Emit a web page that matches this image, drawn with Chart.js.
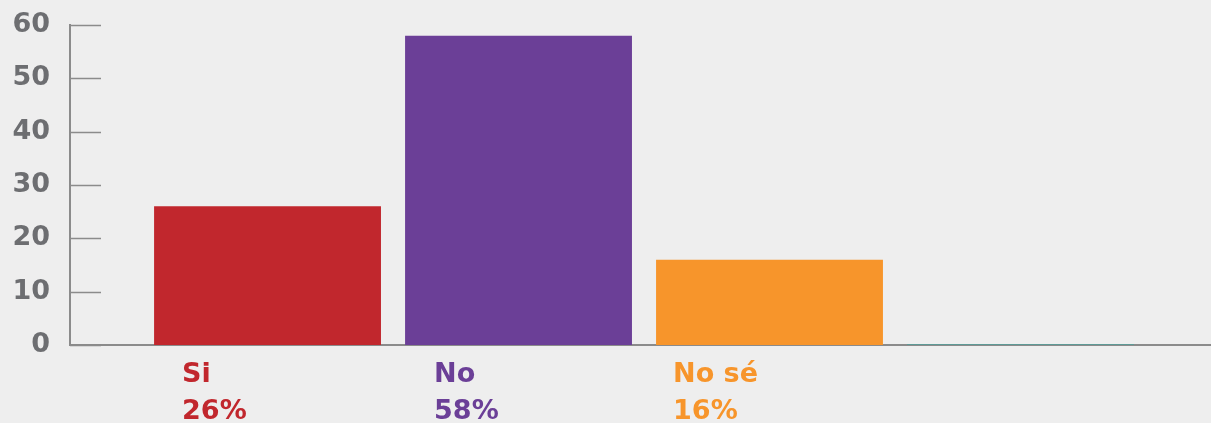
<!DOCTYPE html>
<html>
<head>
<meta charset="utf-8">
<script src="https://cdn.jsdelivr.net/npm/chart.js@4"></script>
<style>
  html, body { margin: 0; padding: 0; background: #eeeeee; }
  #wrap { width: 1211px; height: 423px; position: relative; }
</style>
</head>
<body>
<div id="wrap"><canvas id="chart"></canvas></div>
<script>
// Chart data
const categories = ['Si', 'No', 'No sé', ''];
const counts = [26, 58, 16, 0.2];
const percentLabels = ['26%', '58%', '16%', ''];
const yTicks = [0, 10, 20, 30, 40, 50, 60];
const barColors = ['#c1272d', '#6b3f97', '#f7952b', '#5e9a96'];

const FONT = 'DejaVu Sans';
const AXIS_GRAY = '#8b8b8b';

// Short tick marks drawn inward from the y axis
const innerTicks = {
    id: 'innerTicks',
    afterDraw(chart) {
        const ctx = chart.ctx;
        const y = chart.scales.y;
        const left = chart.chartArea.left;
        ctx.save();
        ctx.strokeStyle = AXIS_GRAY;
        ctx.lineWidth = 1.5;
        yTicks.forEach(v => {
            const py = Math.round(y.getPixelForValue(v)) + 0.5;
            ctx.beginPath();
            ctx.moveTo(left, py);
            ctx.lineTo(left + 31, py);
            ctx.stroke();
        });
        ctx.restore();
    }
};

// Category names and percentages below each bar
const categoryLabels = {
    id: 'categoryLabels',
    afterDraw(chart) {
        const ctx = chart.ctx;
        const meta = chart.getDatasetMeta(0);
        const offsets = [28, 29, 17, 0];
        const base = chart.chartArea.bottom;
        ctx.save();
        ctx.font = 'bold 27px "' + FONT + '"';
        ctx.textAlign = 'left';
        ctx.textBaseline = 'alphabetic';
        meta.data.forEach((bar, i) => {
            const x = bar.x - bar.width / 2 + offsets[i];
            ctx.fillStyle = barColors[i];
            ctx.fillText(categories[i], x, base + 37);
            ctx.fillText(percentLabels[i], x, base + 74);
        });
        ctx.restore();
    }
};

new Chart(document.getElementById('chart'), {
    type: 'bar',
    data: {
        datasets: [{
            data: counts.map((v, i) => ({ x: i, y: v })),
            backgroundColor: barColors,
            borderWidth: 0,
            barPercentage: 0.904,
            categoryPercentage: 1
        }]
    },
    options: {
        responsive: true,
        maintainAspectRatio: false,
        animation: false,
        layout: { padding: { top: 25, right: 0, left: 0, bottom: 0 } },
        plugins: {
            legend: { display: false },
            tooltip: { enabled: false }
        },
        scales: {
            x: {
                type: 'linear',
                offset: false,
                min: -0.787,
                max: 3.759,
                grid: { display: false, drawTicks: false, offset: false },
                border: { display: true, color: AXIS_GRAY, width: 2 },
                afterBuildTicks: scale => { scale.ticks = categories.map((c, i) => ({ value: i })); },
                ticks: { display: false },
                afterFit: scale => { scale.height = 78; scale.paddingLeft = 0; scale.paddingRight = 0; }
            },
            y: {
                min: 0,
                max: 60,
                grid: { display: false, drawTicks: false },
                border: { display: true, color: AXIS_GRAY, width: 2 },
                afterBuildTicks: scale => { scale.ticks = yTicks.map(v => ({ value: v })); },
                ticks: {
                    padding: 20,
                    color: '#6d6e71',
                    font: { family: FONT, weight: 'bold', size: 27 }
                },
                afterFit: scale => { scale.width = 70; scale.paddingTop = 0; scale.paddingBottom = 0; }
            }
        }
    },
    plugins: [innerTicks, categoryLabels]
});
</script>
</body>
</html>
